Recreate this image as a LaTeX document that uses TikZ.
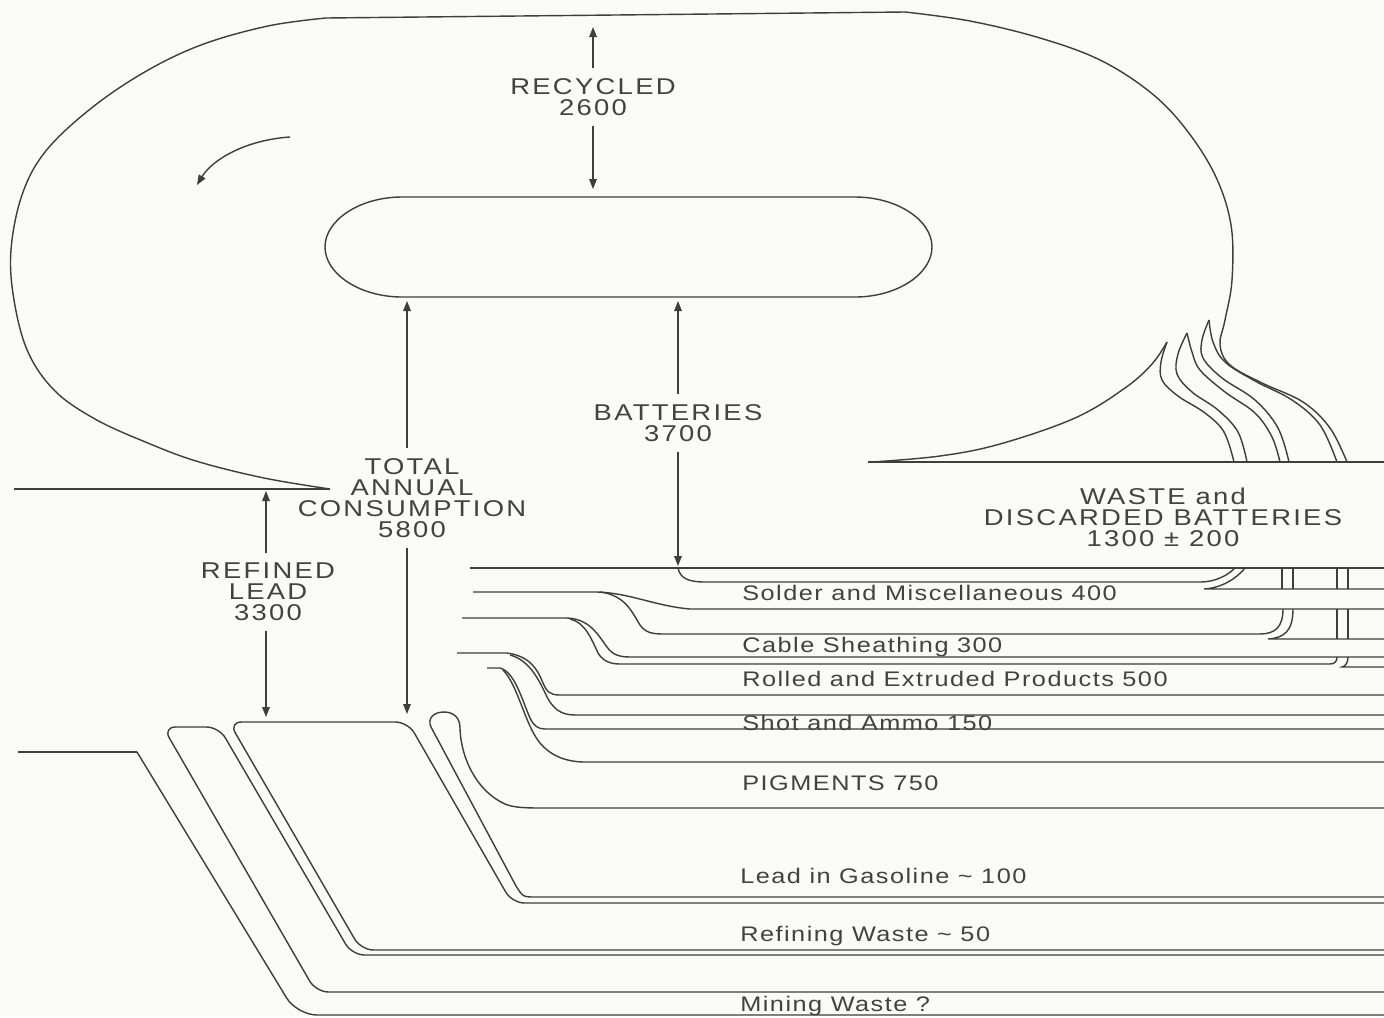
\documentclass[tikz,border=0pt]{standalone}
\usepackage{fontspec}
\usetikzlibrary{arrows.meta, positioning, calc}
\newfontfamily\capsf[FakeStretch=1.2,LetterSpace=10]{Liberation Sans}
\newfontfamily\lowsf[FakeStretch=1.2,LetterSpace=7]{Liberation Sans}
\definecolor{BG}{RGB}{250,250,248}
\definecolor{INK}{RGB}{62,62,62}
\definecolor{TX}{RGB}{66,66,66}

\begin{document}
\begin{tikzpicture}[
  x=0.2mm, y=-0.2mm,
  ln/.style={draw=INK, line width=0.8pt},
  arr/.style={-{Triangle[length=2mm,width=1.5mm]}, ln},
  flow/.style={ln, rounded corners=2.5mm},
  sm/.style={smooth, tension=0.6},
  caplbl/.style={font=\capsf\fontsize{13}{12}\selectfont, text=TX,
              align=center, inner sep=2mm},
  item/.style={font=\lowsf\fontsize{12}{14}\selectfont, text=TX,
               anchor=base west, inner sep=0pt}
]
% page
\fill[BG] (0,0) rectangle (1384,1017);
\useasboundingbox (0,0) rectangle (1384,1017);

% Battery loop
\draw[ln] (14,489) -- (330,489);
\draw[ln] plot[sm] coordinates {(330,489) (264,478) (196,461) (143,441)
  (95,419) (55,391) (28,352) (14,300) (11,250) (22,195) (45,152) (89,110)
  (143,73) (201,45) (268,26) (326,18)} -- (905,12)
  -- plot[sm] coordinates {(905,12) (970,21) (1040,38) (1100,60) (1150,92)
  (1185,128) (1215,175) (1231,225) (1232,280) (1225,320) (1220,345)
  (1230,365) (1262,383) (1303,402) (1330,428) (1347,462)};
\draw[ln] (402,197) -- (855,197) .. controls (897,197) and (932,220) .. (932,247)
  .. controls (932,274) and (897,297) .. (855,297) -- (402,297)
  .. controls (360,297) and (325,274) .. (325,247)
  .. controls (325,220) and (360,197) .. (402,197) -- cycle;
\coordinate (turnS) at (290,137);
\coordinate (turnE) at (197,185);
\draw[arr] (turnS) .. controls (245,140) and (212,160) .. (turnE);

% Waste and strands
\draw[ln] (868,462) -- (1384,462);
\draw[ln] plot[sm] coordinates {(872,462) (940,456) (1000,444) (1075,418)
  (1125,388) (1152,364) (1167,342)};
\draw[ln] plot[sm] coordinates {(1167,342) (1161,362) (1162,380) (1178,396)
  (1205,413) (1224,432) (1234,462)};
\draw[ln] plot[sm] coordinates {(1187,333) (1178,354) (1177,374) (1192,392)
  (1218,410) (1238,432) (1247,462)};
\draw[ln] plot[sm] coordinates {(1187,333) (1192,352) (1200,370) (1225,392)
  (1255,413) (1272,437) (1280,462)};
\draw[ln] plot[sm] coordinates {(1209,320) (1202,340) (1203,358) (1222,378)
  (1255,400) (1278,428) (1289,462)};
\draw[ln] plot[sm] coordinates {(1209,320) (1213,342) (1225,362) (1255,381)
  (1292,400) (1320,425) (1337,462)};

% Product flows
\draw[ln] (470,568) -- (1384,568);
\draw[ln] (678,568) .. controls (680,578) and (688,582) .. (705,582) -- (1200,582)
  .. controls (1216,582) and (1228,575) .. (1235,568);
\draw[ln] (1384,589) -- (1204,589) .. controls (1222,588) and (1237,578) .. (1245,568);
\draw[ln] (473,592) -- (597,592) .. controls (630,593) and (655,606) .. (690,609)
  -- (1384,609);
\draw[ln] (600,592) .. controls (625,595) and (632,612) .. (640,625)
  .. controls (646,633) and (652,634) .. (665,634) -- (1260,634)
  .. controls (1275,634) and (1283,627) .. (1283,609);
\draw[ln] (1384,639) -- (1268,639) .. controls (1285,638) and (1293,630) .. (1293,609);
\draw[ln] (462,618) -- (567,618) .. controls (590,619) and (598,635) .. (607,647)
  .. controls (612,654) and (618,657) .. (630,657) -- (1384,657);
\draw[ln] (570,619) .. controls (585,622) and (592,640) .. (598,653)
  .. controls (603,661) and (610,664) .. (620,664) -- (1330,664)
  .. controls (1335,664) and (1337,661) .. (1337,657);
\draw[ln] (1384,667) -- (1342,667) .. controls (1346,666) and (1348,662) .. (1348,657);
\draw[ln] (457,653) -- (507,653) .. controls (530,656) and (538,670) .. (543,683)
  .. controls (547,692) and (550,695) .. (560,695) -- (1384,695);
\draw[ln] (510,655) .. controls (530,660) and (540,682) .. (547,697)
  .. controls (553,708) and (560,715) .. (575,715) -- (1384,715);
\draw[ln] (487,668) -- (500,668) .. controls (515,672) and (522,700) .. (530,718)
  .. controls (534,726) and (538,729) .. (545,729) -- (1384,729);
\draw[ln] (503,670) .. controls (518,685) and (525,725) .. (540,743)
  .. controls (550,755) and (565,762) .. (585,762) -- (1384,762);
\foreach \vx in {1282,1293,1337,1348}
  \draw[ln] (\vx,568) -- (\vx,589);
\foreach \vx in {1337,1348}
  \draw[ln] (\vx,609) -- (\vx,639);

% Lower blocks
\draw[ln] (18,752) -- (137,752);
\draw[ln, rounded corners=4mm] (137,752) -- (297,1015) -- (1384,1015);
\draw[flow] (1384,992) -- (316,992) -- (163,727) -- (219,727) -- (352,955) -- (1384,955);
\draw[flow] (1384,950) -- (361,950) -- (229,722) -- (408,722) -- (512,903) -- (1384,903);
\draw[ln] (1384,897) -- (536,897) .. controls (523,897) .. (516,886) -- (431,727)
  .. controls (427,718) and (434,712) .. (444,712)
  .. controls (454,712) and (460,718) .. (460,728)
  .. controls (461,760) and (478,792) .. (505,804)
  .. controls (512,807) and (522,808) .. (540,808) -- (1384,808);

% Labels
\node[caplbl] (recyc)   at (593,97)   {RECYCLED\\2600};
\node[caplbl] (batt)    at (678,423)  {BATTERIES\\3700};
\node[caplbl] (total)   at (412,498)  {TOTAL\\ANNUAL\\CONSUMPTION\\5800};
\node[caplbl] (refined) at (268,592)  {REFINED\\LEAD\\3300};
\node[caplbl] (waste)   at (1163,517) {WASTE and\\DISCARDED BATTERIES\\1300 ± 200};

\node[item] (solder) at (742,600)  {Solder and Miscellaneous 400};
\node[item] (cable)  at (742,652)  {Cable Sheathing 300};
\node[item] (rolled) at (742,686)  {Rolled and Extruded Products 500};
\node[item] (shot)   at (742,730)  {Shot and Ammo 150};
\node[item] (pigm)   at (742,790)  {PIGMENTS 750};
\node[item] (gasol)  at (740,883)  {Lead in Gasoline \textasciitilde\ 100};
\node[item] (refw)   at (740,941)  {Refining Waste \textasciitilde\ 50};
\node[item] (minw)   at (740,1011) {Mining Waste ?};

% Flow arrows
\coordinate (loopTop) at (593,27);
\coordinate (stadTop) at (593,189);
\coordinate (battTop) at (678,301);
\coordinate (battEnd) at (678,566);
\coordinate (consTop) at (407,301);
\coordinate (consEnd) at (407,714);
\coordinate (refTop)  at (266,491);
\coordinate (refEnd)  at (266,717);

\draw[arr] (recyc) -- (loopTop);
\draw[arr] (recyc) -- (stadTop);
\draw[arr] (batt) -- (battTop);
\draw[arr] (batt) -- (battEnd);
\draw[arr] (total.north -| consTop) -- (consTop);
\draw[arr] (total.south -| consTop) -- (consEnd);
\draw[arr] (refined.north -| refTop) -- (refTop);
\draw[arr] (refined.south -| refTop) -- (refEnd);
\end{tikzpicture}
\end{document}
